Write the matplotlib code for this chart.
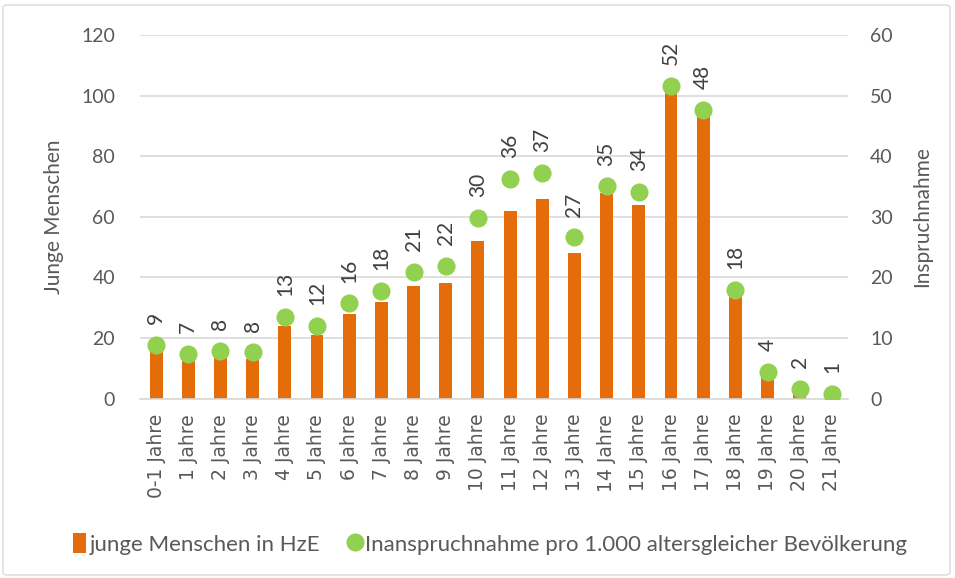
import matplotlib
matplotlib.use("Agg")
import matplotlib.pyplot as plt
from matplotlib.patches import FancyBboxPatch
from matplotlib.lines import Line2D
from matplotlib.patches import Patch

categories = ["0-1 Jahre", "1 Jahre", "2 Jahre", "3 Jahre", "4 Jahre", "5 Jahre",
              "6 Jahre", "7 Jahre", "8 Jahre", "9 Jahre", "10 Jahre", "11 Jahre",
              "12 Jahre", "13 Jahre", "14 Jahre", "15 Jahre", "16 Jahre", "17 Jahre",
              "18 Jahre", "19 Jahre", "20 Jahre", "21 Jahre"]
junge_menschen = [16, 13, 14, 13, 24, 21, 28, 32, 37, 38, 52, 62,
                  66, 48, 68, 64, 101, 94, 37, 8, 2, 0]
inanspruchnahme = [8.9, 7.3, 7.8, 7.6, 13.4, 12.0, 15.7, 17.8, 20.9, 21.9, 29.8, 36.2,
                   37.3, 26.6, 35.0, 34.1, 51.6, 47.6, 17.9, 4.4, 1.6, 0.7]
labels = [9, 7, 8, 8, 13, 12, 16, 18, 21, 22, 30, 36, 37, 27, 35, 34, 52, 48, 18, 4, 2, 1]

plt.rcParams['font.family'] = ['Lato', 'DejaVu Sans']
text_col = "#595959"
orange = "#E46C0A"
green = "#92D050"

fig = plt.figure(figsize=(9.55, 5.78), dpi=100)
W, H = 955, 578
ax = fig.add_axes([140 / W, 1 - 398.5 / H, (848 - 140) / W, (398.5 - 35) / H])

x = list(range(len(categories)))
ax.bar(x, junge_menschen, width=0.4, color=orange, zorder=2)
ax.set_ylim(0, 120)
ax.set_yticks(range(0, 121, 20))
ax.set_xlim(-0.5, len(categories) - 0.5)
ax.set_xticks(x, categories, rotation=90)
ax.grid(axis="y", color="#D9D9D9", linewidth=1.2, zorder=0)
ax.set_axisbelow(True)
for s in ax.spines.values():
    s.set_visible(False)
ax.spines["bottom"].set_visible(True)
ax.spines["bottom"].set_color("#D9D9D9")
ax.spines["bottom"].set_linewidth(1.2)
ax.tick_params(axis="y", length=0, labelsize=14, labelcolor=text_col, pad=18)
ax.tick_params(axis="x", length=0, labelsize=13.5, labelcolor=text_col, pad=11,
               labelfontfamily="DejaVu Sans")
ax.set_ylabel("Junge Menschen", fontsize=15, color=text_col, labelpad=12)

ax2 = ax.twinx()
for s in ax2.spines.values():
    s.set_visible(False)
ax2.scatter(x, inanspruchnahme, s=170, color=green, zorder=3, linewidths=0)
ax2.set_ylim(0, 60)
ax2.set_yticks(range(0, 61, 10))
ax2.tick_params(axis="y", length=0, labelsize=14, labelcolor=text_col, pad=16)
ax2.set_ylabel("Inspruchnahme", fontsize=15, color=text_col, labelpad=14)

for xi, v, lab in zip(x, inanspruchnahme, labels):
    ax2.annotate(str(lab), (xi, v), xytext=(0, 15), textcoords="offset points",
                 rotation=90, ha="center", va="bottom", fontsize=15, color="#404040")

handles = [Patch(facecolor=orange, edgecolor="none"),
           Line2D([], [], marker="o", linestyle="none", markersize=13,
                  markerfacecolor=green, markeredgewidth=0)]
fig.legend(handles, ["junge Menschen in HzE",
                     "Inanspruchnahme pro 1.000 altersgleicher Bevölkerung"],
           loc="center", bbox_to_anchor=(490 / W, 1 - 544 / H), ncol=2, frameon=False,
           fontsize=16, labelcolor=text_col, handlelength=0.6, handletextpad=0.15,
           columnspacing=1.3, handleheight=1.0)

border = FancyBboxPatch((3 / W, 3 / H), (W - 8) / W, (H - 8) / H,
                        boxstyle="round,pad=0,rounding_size=0.005",
                        transform=fig.transFigure, fill=False,
                        edgecolor="#D9D9D9", linewidth=1)
fig.patches.append(border)

fig.savefig("out.png", dpi=100)
